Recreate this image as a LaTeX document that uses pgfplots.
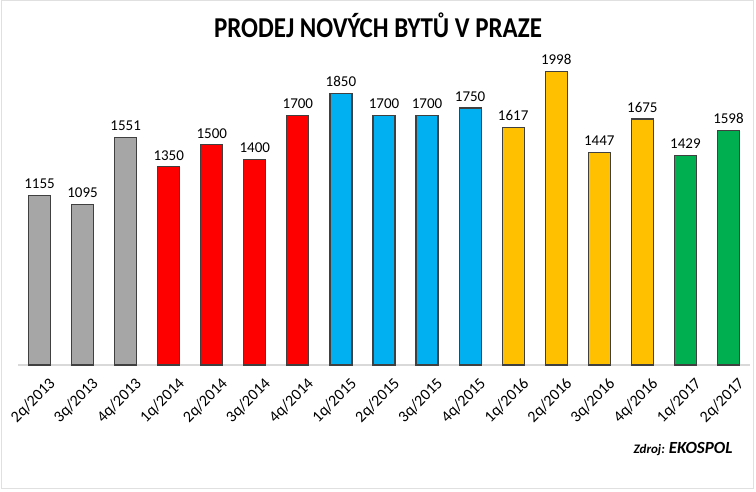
\documentclass[border=0pt]{standalone}
\usepackage{pgfplots}
\pgfplotsset{compat=1.18}
\usepackage{fontspec}
\setmainfont{Carlito}
\definecolor{cgray}{HTML}{A6A6A6}
\definecolor{cred}{HTML}{FF0000}
\definecolor{cblue}{HTML}{00B0F0}
\definecolor{cgold}{HTML}{FFC000}
\definecolor{cgreen}{HTML}{00B050}
\definecolor{cedge}{HTML}{404040}
\begin{document}
\begin{tikzpicture}
\path (0pt,0pt) rectangle (756pt,491pt);
\draw[black!12, line width=1pt] (1pt,3pt) rectangle (753pt,490pt);
\begin{axis}[
  at={(18pt,126pt)}, anchor=south west,
  scale only axis, width=732pt, height=323pt,
  xmin=-0.5, xmax=16.5, ymin=0, ymax=2200,
  axis y line=none,
  axis x line*=bottom,
  x axis line style={black!15, line width=1.2pt, -},
  major tick length=0pt,
  xtick={0,...,16},
  xticklabels={2q/2013,3q/2013,4q/2013,1q/2014,2q/2014,3q/2014,4q/2014,1q/2015,2q/2015,3q/2015,4q/2015,1q/2016,2q/2016,3q/2016,4q/2016,1q/2017,2q/2017},
  xticklabel style={rotate=45, anchor=north east, font=\fontsize{16}{18}\selectfont, inner sep=0pt, yshift=-14pt, xshift=-2pt},
  ybar, bar width=22pt, bar shift=0pt,
  every axis plot/.append style={draw=cedge, line width=1.2pt},
  nodes near coords,
  nodes near coords style={font=\fontsize{15}{17}\selectfont, black, anchor=south, inner sep=2pt, yshift=4pt,
    /pgf/number format/.cd, 1000 sep={}, assume math mode=true},
  clip=false,
]
\addplot[fill=cgray] coordinates {(0,1155) (1,1095) (2,1551)};
\addplot[fill=cred] coordinates {(3,1350) (4,1500) (5,1400) (6,1700)};
\addplot[fill=cblue] coordinates {(7,1850) (8,1700) (9,1700) (10,1750)};
\addplot[fill=cgold] coordinates {(11,1617) (12,1998) (13,1447) (14,1675)};
\addplot[fill=cgreen] coordinates {(15,1429) (16,1598)};
\end{axis}
\node[font=\bfseries\fontsize{25}{30}\selectfont] at (378pt,466pt) {\scalebox{1}[1.15]{PRODEJ NOVÝCH BYTŮ V PRAZE}};
\node[font=\bfseries\itshape] at (683pt,42pt) {\fontsize{13}{15}\selectfont Zdroj: \fontsize{17}{19}\selectfont EKOSPOL};
\end{tikzpicture}
\end{document}
